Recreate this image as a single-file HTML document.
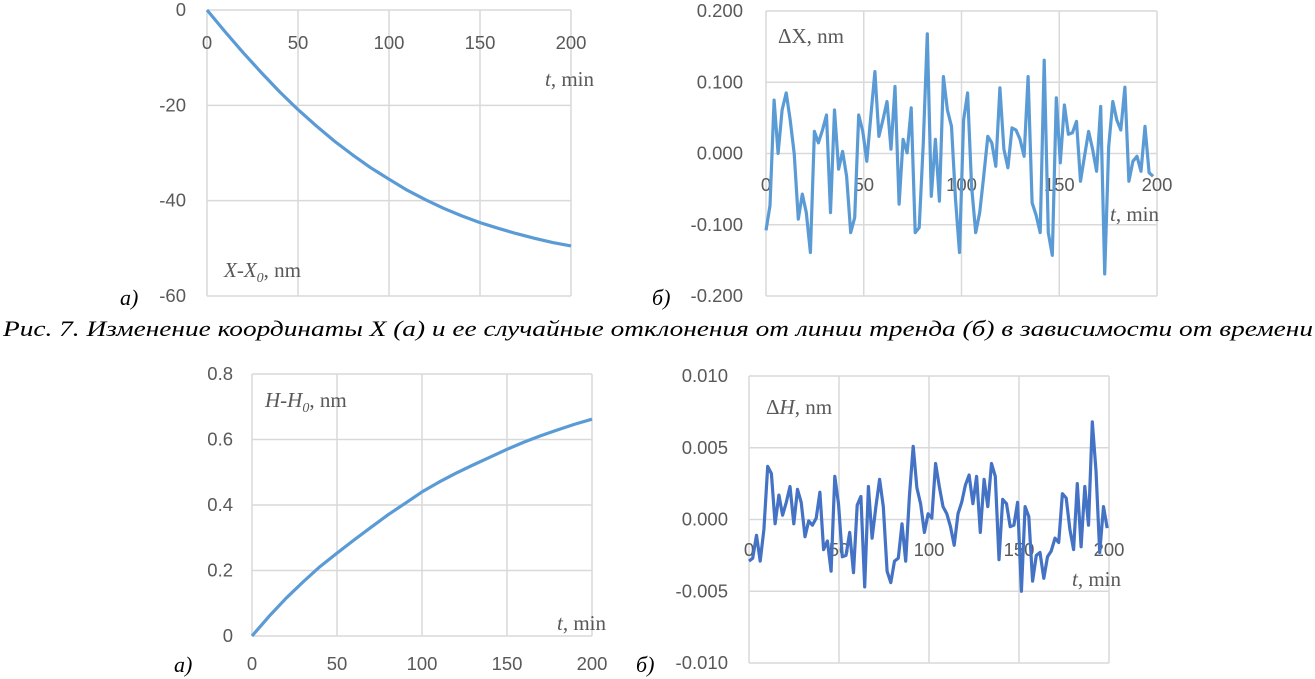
<!DOCTYPE html>
<html><head><meta charset="utf-8"><style>
body{margin:0;background:#fff;}
svg{display:block;}
.tk{font-family:"Liberation Sans",sans-serif;font-size:18.5px;fill:#595959;}
.ttl{font-family:"Liberation Serif",serif;font-size:21px;fill:#595959;}
.lbl{font-family:"Liberation Serif",serif;font-style:italic;font-size:22px;fill:#000;}
</style></head><body>
<svg id="fig" width="1315" height="679" viewBox="0 0 1315 679" xmlns="http://www.w3.org/2000/svg">
<text class="lbl" x="3" y="336" textLength="1310" lengthAdjust="spacingAndGlyphs">Рис. 7. Изменение координаты X (а) и ее случайные отклонения от линии тренда (б) в зависимости от времени</text>
<text class="lbl" x="120" y="305">а)</text>
<text class="lbl" x="652" y="305">б)</text>
<text class="lbl" x="174" y="672">а)</text>
<text class="lbl" x="636" y="672">б)</text>
</svg>
<script>
// Chart 1: X-X0 trend
const c1Times=[0,10,20,30,40,50,60,70,80,90,100,110,120,130,140,150,160,170,180,190,200];
const c1Values=[0,-4.6,-9,-13.2,-17.2,-20.9,-24.3,-27.5,-30.4,-33.1,-35.5,-37.8,-39.8,-41.6,-43.2,-44.6,-45.8,-46.9,-47.9,-48.8,-49.5];
const c1YTicks=[0,-20,-40,-60];
const c1XTicks=[0,50,100,150,200];
// Chart 2: deltaX noise
const c2TMax=198;
const c2Values=[-0.108,-0.073,0.075,0,0.061,0.085,0.047,0,-0.092,-0.057,
-0.083,-0.139,0.031,0.015,0.033,0.054,-0.083,0.061,-0.022,0.003,
-0.032,-0.111,-0.09,0.054,0.031,-0.011,0.052,0.115,0.024,0.047,
0.073,0.006,0.094,-0.071,0.02,0.001,0.064,-0.111,-0.104,0.015,
0.168,-0.06,0.02,-0.067,0.108,0.061,0.038,-0.064,-0.139,0.047,
0.085,-0.046,-0.111,-0.083,-0.032,0.024,0.015,-0.018,0.092,0.006,
-0.02,0.036,0.033,0.02,-0.004,0.108,-0.069,-0.087,-0.111,0.131,
-0.111,-0.143,0.078,-0.013,0.068,0.027,0.029,0.045,-0.039,-0.004,
0.031,0.006,-0.025,0.066,-0.169,0.01,0.073,0.047,0.033,0.093,
-0.039,-0.011,-0.004,-0.025,0.038,-0.027,-0.032];
const c2YTicks=[0.2,0.1,0,-0.1,-0.2];
const c2YLabels=["0.200","0.100","0.000","-0.100","-0.200"];
const c2XTicks=[0,50,100,150,200];
// Chart 3: H-H0 trend
const c3Times=[0,10,20,30,40,50,60,70,80,90,100,110,120,130,140,150,160,170,180,190,200];
const c3Values=[0,0.06,0.115,0.165,0.212,0.253,0.293,0.332,0.37,0.405,0.44,0.47,0.497,0.522,0.546,0.57,0.592,0.612,0.63,0.647,0.662];
const c3YTicks=[0,0.2,0.4,0.6,0.8];
const c3YLabels=["0","0.2","0.4","0.6","0.8"];
const c3XTicks=[0,50,100,150,200];
// Chart 4: deltaH noise
const c4TMax=199;
const c4Values=[-0.0029,-0.0027,-0.0011,-0.0029,-0.0007,0.0037,0.0032,-0.0003,0.0017,0.0003,
0.0012,0.0023,-0.0003,0.0021,0.0012,-0.0012,-0.0001,-0.0004,0.0001,0.0019,
-0.0021,-0.0015,-0.0036,0.003,0.0011,-0.0026,-0.0025,-0.0009,-0.0037,0.001,
0.0016,-0.0047,0.0023,-0.0013,0.0009,0.0028,0.0009,-0.0036,-0.0044,-0.0029,
-0.0027,-0.0003,-0.0029,0.0016,0.0051,0.0022,0.0011,-0.0009,0.0004,0.0001,
0.0039,0.0023,0.0009,0.0004,-0.0005,-0.0018,0.0004,0.0012,0.0024,0.0031,
0.0011,0.003,-0.0009,0.0028,0.0009,0.0039,0.003,-0.0028,0.0014,0.0011,
-0.0005,-0.0004,0.0012,-0.005,0.0009,0.0002,-0.0043,-0.0025,-0.0023,-0.0041,
-0.0026,-0.0022,-0.0013,-0.0016,0.0018,0.0015,-0.0007,-0.0021,0.0025,-0.0019,
0.0023,-0.0004,0.0068,0.0034,-0.0023,0.0009,-0.0006];
const c4YTicks=[0.01,0.005,0,-0.005,-0.01];
const c4YLabels=["0.010","0.005","0.000","-0.005","-0.010"];
const c4XTicks=[0,50,100,150,200];

const svg=document.getElementById('fig');
const NS='http://www.w3.org/2000/svg';
function mk(tag,attrs){const e=document.createElementNS(NS,tag);for(const k in attrs)e.setAttribute(k,attrs[k]);svg.appendChild(e);return e;}
function scale(d0,d1,r0,r1){return v=>r0+(v-d0)/(d1-d0)*(r1-r0);}

function chart(cfg){
  const sx=scale(0,200,cfg.l,cfg.r), sy=scale(cfg.ymin,cfg.ymax,cfg.b,cfg.t);
  const g=mk('g',{});
  
  
  cfg.xticks.forEach(v=>{
    const ln=mk('line',{x1:sx(v),x2:sx(v),y1:cfg.t,y2:cfg.b,stroke:'#d9d9d9','stroke-width':1.5});
    
    
    const tx=mk('text',{x:sx(v),y:cfg.xLabY,'text-anchor':'middle',class:'tk'});
    tx.textContent=String(v);
    
    
  });
  cfg.yticks.forEach((v,i)=>{
    const ln=mk('line',{x1:cfg.l,x2:cfg.r,y1:sy(v),y2:sy(v),stroke:'#d9d9d9','stroke-width':1.5});
    
    
    const tx=mk('text',{x:cfg.yLabX,y:sy(v)+6,'text-anchor':'end',class:'tk'});
    tx.textContent=cfg.ylabels?cfg.ylabels[i]:String(v);
    
    
  });
  const pts=cfg.vals.map((v,i)=>sx(cfg.times?cfg.times[i]:i*cfg.tmax/(cfg.vals.length-1)).toFixed(1)+','+sy(v).toFixed(1)).join(' ');
  const pl=mk('polyline',{points:pts,fill:'none',stroke:cfg.color,'stroke-width':3.2,'stroke-linejoin':'round'});
  
  
  const yt=mk('text',{x:cfg.ytX,y:cfg.ytY,class:'ttl'});
  yt.innerHTML=cfg.ytitle;
  
  
  const xt=mk('text',{x:cfg.xtX,y:cfg.xtY,class:'ttl'});
  xt.innerHTML='<tspan font-style="italic">t</tspan>, min';
  
  
}

chart({name:'chart-x-trend',l:207,r:571,t:10,b:296,ymin:-60,ymax:0,xticks:c1XTicks,yticks:c1YTicks,
  times:c1Times,vals:c1Values,color:'#5b9bd5',xLabY:49,yLabX:186,
  ytitle:'<tspan font-style="italic">X</tspan>-<tspan font-style="italic">X</tspan><tspan font-style="italic" font-size="14" dy="5">0</tspan><tspan dy="-5">, nm</tspan>',ytX:224,ytY:277,xtX:545,xtY:86});
chart({name:'chart-dx-noise',l:766,r:1157,t:11,b:296,ymin:-0.2,ymax:0.2,xticks:c2XTicks,yticks:c2YTicks,ylabels:c2YLabels,
  tmax:c2TMax,vals:c2Values,color:'#5b9bd5',xLabY:191,yLabX:743,
  ytitle:'ΔX, nm',ytX:778,ytY:43,xtX:1110,xtY:221});
chart({name:'chart-h-trend',l:252,r:592,t:374,b:636,ymin:0,ymax:0.8,xticks:c3XTicks,yticks:c3YTicks,ylabels:c3YLabels,
  times:c3Times,vals:c3Values,color:'#5b9bd5',xLabY:670,yLabX:233,
  ytitle:'<tspan font-style="italic">H</tspan>-<tspan font-style="italic">H</tspan><tspan font-style="italic" font-size="14" dy="5">0</tspan><tspan dy="-5">, nm</tspan>',ytX:265,ytY:407,xtX:557,xtY:630});
chart({name:'chart-dh-noise',l:749,r:1109,t:376,b:663,ymin:-0.01,ymax:0.01,xticks:c4XTicks,yticks:c4YTicks,ylabels:c4YLabels,
  tmax:c4TMax,vals:c4Values,color:'#4472c4',xLabY:556,yLabX:728,
  ytitle:'Δ<tspan font-style="italic">H</tspan>, nm',ytX:766,ytY:414,xtX:1072,xtY:586});
</script>
</body></html>
